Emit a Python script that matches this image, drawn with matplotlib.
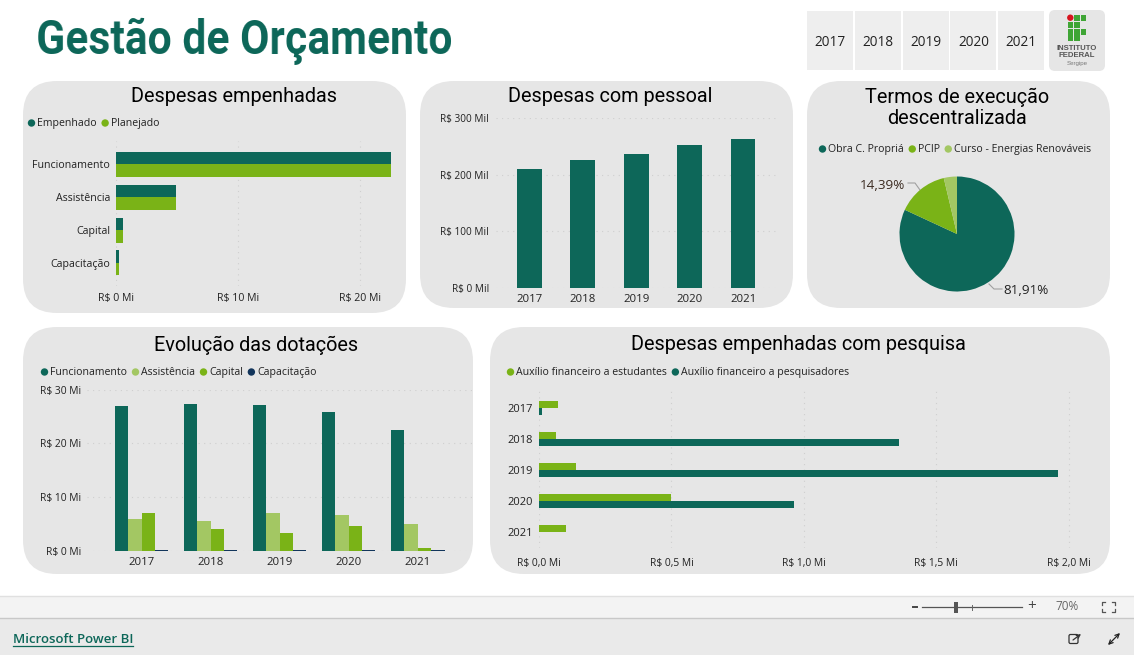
import numpy as np
import matplotlib
matplotlib.use("Agg")
import matplotlib.pyplot as plt
from matplotlib.patches import FancyBboxPatch, Rectangle, Circle

W, H = 1134, 655
DARK = "#0D6759"
GREEN = "#7AB317"
LIGHT = "#A3C763"
NAVY = "#12355B"
PANEL = "#E6E6E6"
BODY = "Open Sans"
HEAD = "Roboto"

years = ["2017", "2018", "2019", "2020", "2021"]

# despesas empenhadas (R$ Mi)
emp_cats = ["Funcionamento", "Assistência", "Capital", "Capacitação"]
empenhado = [22.5, 4.95, 0.6, 0.25]
planejado = [22.5, 4.95, 0.6, 0.25]
emp_ticks = [0, 10, 20]
emp_ticklabels = ["R$ 0 Mi", "R$ 10 Mi", "R$ 20 Mi"]

# despesas com pessoal (R$ Mil)
pessoal = [210, 226, 237, 252, 263]
pes_ticks = [0, 100, 200, 300]
pes_ticklabels = ["R$ 0 Mil", "R$ 100 Mil", "R$ 200 Mil", "R$ 300 Mil"]

# termos de execução descentralizada (%)
ted_names = ["Obra C. Propriá", "PCIP", "Curso - Energias Renováveis"]
ted_values = [81.91, 14.39, 3.70]

# evolução das dotações (R$ Mi)
funcionamento = [26.95, 27.3, 27.2, 25.8, 22.5]
assistencia = [5.9, 5.6, 7.0, 6.75, 4.95]
capital = [7.1, 4.15, 3.35, 4.65, 0.55]
capacitacao = [0.2, 0.2, 0.2, 0.2, 0.2]
dot_ticks = [0, 10, 20, 30]
dot_ticklabels = ["R$ 0 Mi", "R$ 10 Mi", "R$ 20 Mi", "R$ 30 Mi"]

# despesas com pesquisa (R$ Mi)
estudantes = [0.071, 0.065, 0.14, 0.497, 0.103]
pesquisadores = [0.01, 1.358, 1.96, 0.964, 0.0]
pesq_ticks = [0, 0.5, 1.0, 1.5, 2.0]
pesq_ticklabels = ["R$ 0,0 Mi", "R$ 0,5 Mi", "R$ 1,0 Mi", "R$ 1,5 Mi", "R$ 2,0 Mi"]

fig = plt.figure(figsize=(W / 100, H / 100), dpi=100, facecolor="white")

# fundo em coordenadas de pixel
bg = fig.add_axes([0, 0, 1, 1])
bg.set_xlim(0, W)
bg.set_ylim(H, 0)
bg.axis("off")


def panel(x0, y0, x1, y1, r=34):
    bg.add_patch(FancyBboxPatch((x0 + r, y0 + r), x1 - x0 - 2 * r, y1 - y0 - 2 * r,
                                boxstyle=f"round,pad={r},rounding_size={r}",
                                fc=PANEL, ec="none"))


def legend(items, x, y, size=7.55):
    # bolinha + texto, posições calculadas com o tamanho real do texto
    r = fig.canvas.get_renderer()
    for name, col in items:
        bg.add_patch(Circle((x + 3.5, y), 3.7, fc=col, ec="none"))
        t = bg.text(x + 9, y + 0.5, name, fontsize=size, family=BODY, color="#222222",
                    va="center", ha="left")
        x += 9 + t.get_window_extent(r).width + 5


def chart_ax(x0, y0, x1, y1):
    ax = fig.add_axes([x0 / W, 1 - y1 / H, (x1 - x0) / W, (y1 - y0) / H])
    ax.patch.set_alpha(0)
    for s in ax.spines.values():
        s.set_visible(False)
    ax.tick_params(length=0, labelsize=8, labelcolor="#222222")
    return ax


def style(ax, grid_axis):
    ax.grid(axis=grid_axis, color="#CFCFCF", linestyle=(0, (1, 4)), linewidth=0.8)
    ax.set_axisbelow(True)
    for lab in ax.get_xticklabels() + ax.get_yticklabels():
        lab.set_family(BODY)


def title(text, cx, cy):
    bg.text(cx, cy, text, fontsize=14.3, family=HEAD, color="#000000",
            ha="center", va="center")


def condense(ratio):
    # aperta o texto na horizontal, não há fonte condensada instalada
    def f(img, dpi):
        h, w = img.shape[:2]
        nw = max(1, int(w * ratio))
        xs = np.linspace(0, w - 1, nw)
        out = np.empty((h, nw, img.shape[2]), dtype=img.dtype)
        for c in range(img.shape[2]):
            for row in range(h):
                out[row, :, c] = np.interp(xs, np.arange(w), img[row, :, c])
        return out, 0, 0
    return f


# cabeçalho
head = bg.text(36, 41, "Gestão de Orçamento", fontsize=35.4, family=HEAD,
               fontweight="bold", color=DARK, ha="left", va="center")
head.set_agg_filter(condense(417 / head.get_window_extent(fig.canvas.get_renderer()).width))
for i, y in enumerate(years):
    x0 = 807 + i * 47.8
    bg.add_patch(Rectangle((x0, 11), 46, 59, fc="#EEEEEE", ec="none"))
    bg.text(x0 + 23, 42, y, fontsize=9.8, family=BODY, color="#222222", ha="center", va="center")

# logo
logo_squares = [(1, 0), (2, 0), (0, 1), (1, 1), (0, 2), (1, 2), (2, 2), (0, 3), (1, 3)]
bg.add_patch(FancyBboxPatch((1055, 16), 44, 49, boxstyle="round,pad=6,rounding_size=6",
                            fc=PANEL, ec="none"))
for col, row in logo_squares:
    bg.add_patch(Rectangle((1067.5 + col * 6.5, 15 + row * 6.8), 5.8, 6, fc="#3FA535", ec="none"))
bg.add_patch(Circle((1070.3, 17.7), 3.2, fc="#D7141E", ec="none"))
bg.text(1077, 48.3, "INSTITUTO", fontsize=5.6, family="Liberation Sans", fontweight="bold",
        color="#555555", ha="center", va="center")
bg.text(1077, 55.8, "FEDERAL", fontsize=5.6, family="Liberation Sans", fontweight="bold",
        color="#555555", ha="center", va="center")
bg.text(1077, 63.5, "Sergipe", fontsize=4.4, family="Liberation Sans", color="#777777",
        ha="center", va="center")

panel(23, 81, 406, 313)
panel(420, 81, 793, 308)
panel(807, 81, 1110, 308)
panel(23, 327, 473, 574)
panel(490, 327, 1110, 574)

title("Despesas empenhadas", 234, 96)
title("Despesas com pessoal", 610, 96)
title("Termos de execução", 957, 97)
title("descentralizada", 957, 119)
title("Evolução das dotações", 256, 345)
title("Despesas empenhadas com pesquisa", 798, 345)

legend([("Empenhado", DARK), ("Planejado", GREEN)], 28, 123)
legend([(ted_names[0], DARK), (ted_names[1], GREEN), (ted_names[2], LIGHT)], 819, 149)
legend([("Funcionamento", DARK), ("Assistência", LIGHT), ("Capital", GREEN),
        ("Capacitação", NAVY)], 41, 372)
legend([("Auxílio financeiro a estudantes", GREEN), ("Auxílio financeiro a pesquisadores", DARK)],
       507, 372)

# despesas empenhadas
ax = chart_ax(115.5, 141, 391.5, 286)
pos = range(len(emp_cats))
ax.barh([p - 0.19 for p in pos], empenhado, height=0.381, color=DARK)
ax.barh([p + 0.19 for p in pos], planejado, height=0.381, color=GREEN)
ax.set_xlim(0, 22.56)
ax.set_ylim(3.705, -0.716)
ax.set_yticks(list(pos), emp_cats)
ax.set_xticks(emp_ticks, emp_ticklabels)
ax.tick_params(axis="y", pad=4, labelsize=7.7)
ax.tick_params(axis="x", pad=5, labelsize=7.6)
style(ax, "x")

# pessoal
ax = chart_ax(496, 118, 778, 288)
pos = range(len(years))
ax.bar(pos, pessoal, width=0.465, color=DARK)
ax.set_xlim(-0.627, 4.654)
ax.set_ylim(0, 300)
ax.set_xticks(list(pos), years)
ax.set_yticks(pes_ticks, pes_ticklabels)
ax.tick_params(axis="x", pad=4, labelsize=8.2)
ax.tick_params(axis="y", pad=5, labelsize=7.2)
style(ax, "y")

# pizza
ax = fig.add_axes([(957 - 57.5) / W, 1 - (234 + 57.5) / H, 115 / W, 115 / H])
ax.pie(ted_values, colors=[DARK, GREEN, LIGHT], startangle=90, counterclock=False, radius=1,
       wedgeprops={"linewidth": 0})
ax.set_xlim(-1, 1)
ax.set_ylim(-1, 1)
bg.plot([908, 915, 920], [183, 183, 190], color="#A0A0A0", lw=0.8)
bg.plot([989, 994, 1002], [284, 289, 289], color="#A0A0A0", lw=0.8)
bg.text(905, 185.5, "14,39%", fontsize=9.7, family=BODY, color="#3A2A20", ha="right", va="center")
bg.text(1003, 290.5, "81,91%", fontsize=9.7, family=BODY, color="#222222", ha="left", va="center")

# dotações
ax = chart_ax(87, 389.7, 473, 551)
pos = list(range(len(years)))
w = 0.194
for k, (vals, col) in enumerate([(funcionamento, DARK), (assistencia, LIGHT),
                                 (capital, GREEN), (capacitacao, NAVY)]):
    ax.bar([p + (k - 1.5) * w for p in pos], vals, width=w, color=col)
ax.set_xlim(-0.79, 4.80)
ax.set_ylim(0, 30)
ax.set_xticks(pos, years)
ax.set_yticks(dot_ticks, dot_ticklabels)
ax.tick_params(axis="x", pad=4, labelsize=8.2)
ax.tick_params(axis="y", pad=4.3, labelsize=7.4)
style(ax, "y")

# pesquisa
ax = chart_ax(539, 388, 1090, 548)
ax.barh([p - 0.115 for p in pos], estudantes, height=0.23, color=GREEN)
ax.barh([p + 0.115 for p in pos], pesquisadores, height=0.23, color=DARK)
ax.set_xlim(0, 2.08)
ax.set_ylim(4.52, -0.65)
ax.set_yticks(pos, years)
ax.set_xticks(pesq_ticks, pesq_ticklabels)
ax.tick_params(axis="y", pad=4.5, labelsize=8)
ax.tick_params(axis="x", pad=7, labelsize=7.4)
style(ax, "x")

# barras do rodapé
bg.add_patch(Rectangle((0, 596), W, 22, fc="#F3F3F3", ec="none"))
bg.add_patch(Rectangle((0, 618), W, 37, fc="#EAEAEA", ec="none"))
bg.plot([0, W], [596, 596], color="#E0E0E0", lw=1)
bg.plot([0, W], [618, 618], color="#C8C8C8", lw=1)
bg.text(13, 639.5, "Microsoft Power BI", fontsize=9.5, family=BODY, fontweight="semibold",
        color="#0D6759", ha="left", va="center")
bg.plot([13, 133], [646, 646], color="#0D6759", lw=0.9)
bg.plot([913, 917], [607, 607], color="#444444", lw=1.4)
bg.plot([922, 1022], [607, 607], color="#555555", lw=0.9)
bg.add_patch(Rectangle((954, 602), 4, 11, fc="#555555", ec="none"))
bg.plot([972, 972], [604.5, 609.5], color="#666666", lw=0.7)
bg.text(1032, 606.5, "+", fontsize=11, family=BODY, color="#444444", ha="center", va="center")
bg.text(1067, 607, "70%", fontsize=8.5, family=BODY, color="#666666", ha="center", va="center")
# ícone de ajuste: só os cantos
for xs, ys in [([1102, 1102, 1105], [609, 612, 612]), ([1112, 1115, 1115], [612, 612, 609]),
               ([1102, 1102, 1105], [605, 602, 602]), ([1112, 1115, 1115], [602, 602, 605])]:
    bg.plot(xs, ys, color="#555555", lw=0.9)
bg.add_patch(FancyBboxPatch((1069.5, 635), 8, 8, boxstyle="round,pad=0.5,rounding_size=1.5",
                            fc="none", ec="#333333", lw=0.9))
bg.annotate("", xy=(1081, 634), xytext=(1073, 640),
            arrowprops=dict(arrowstyle="->", lw=0.9, color="#333333", shrinkA=0, shrinkB=0, mutation_scale=6))
bg.annotate("", xy=(1120, 633), xytext=(1108, 645),
            arrowprops=dict(arrowstyle="<->", lw=0.9, color="#222222", shrinkA=0, shrinkB=0, mutation_scale=7))

fig.savefig("out.png", dpi=100, facecolor="white")
